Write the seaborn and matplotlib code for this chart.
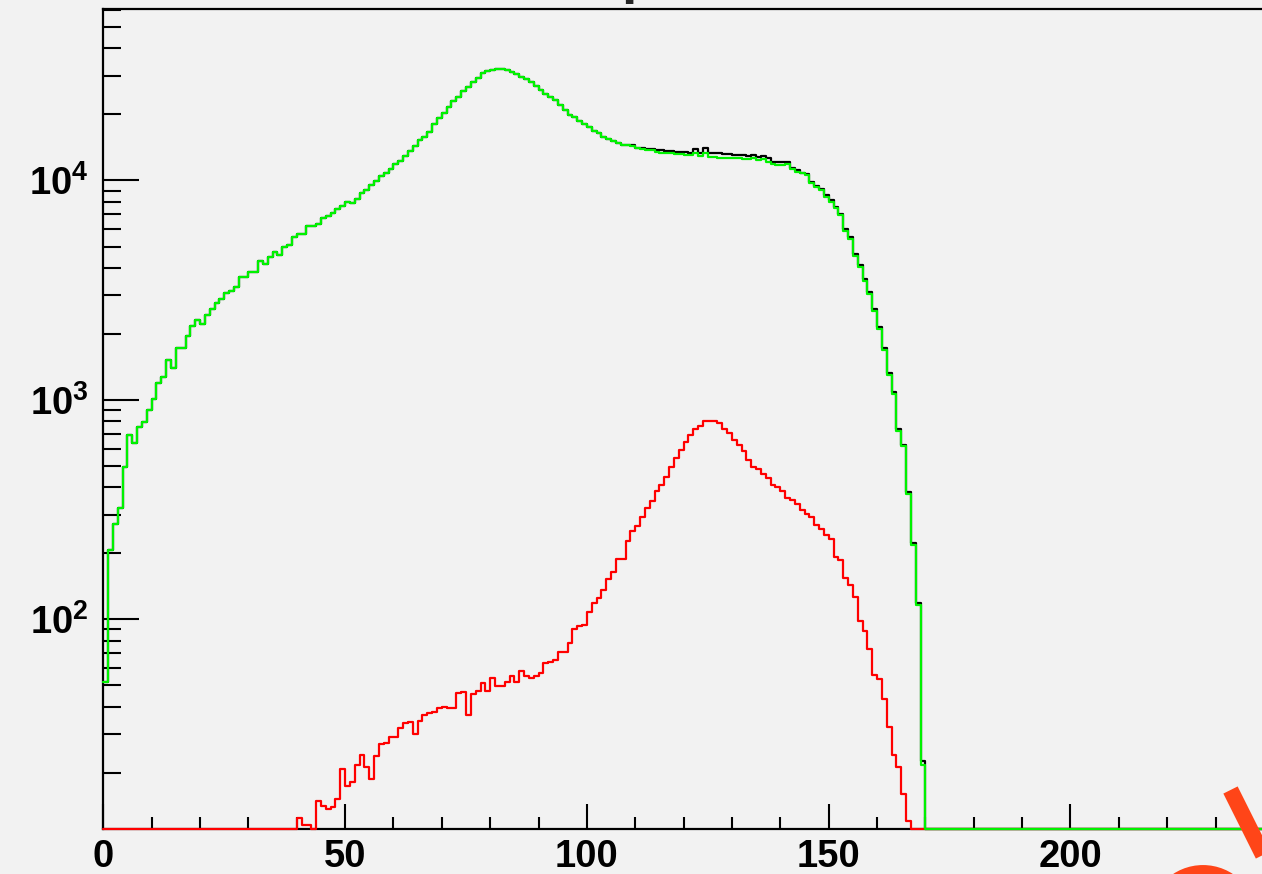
import numpy as np
import pandas as pd
import matplotlib
matplotlib.use("Agg")
import matplotlib.pyplot as plt
from matplotlib.ticker import FixedLocator, FixedFormatter, NullFormatter, LogLocator
from matplotlib.lines import Line2D
from matplotlib.patches import Circle
import seaborn as sns

# ---- histogram contents, one entry per 1-unit bin starting at 0 ----
counts_all = [
    52, 207, 271, 323, 493, 692, 634, 755, 796, 900,
    1009, 1198, 1268, 1520, 1393, 1719, 1719, 1955, 2172, 2312,
    2218, 2437, 2589, 2775, 2876, 3063, 3150, 3283, 3622, 3622,
    3842, 3842, 4298, 4150, 4466, 4740, 4580, 4990, 5080, 5540,
    5700, 5700, 6210, 6210, 6340, 6730, 6890, 7130, 7390, 7680,
    8000, 7870, 8240, 8800, 9050, 9530, 9950, 10510, 10780, 11250,
    11890, 12300, 12930, 13670, 14360, 15290, 15840, 16690, 18090, 19200,
    20380, 21550, 23110, 24100, 25660, 26580, 28200, 29410, 30780, 31430,
    31870, 32210, 32210, 31870, 31320, 30560, 29510, 28900, 28100, 26950,
    25850, 24790, 23930, 23270, 22080, 20960, 19890, 19540, 18740, 18090,
    17590, 16870, 16400, 15840, 15400, 15190, 14870, 14470, 14470, 14550,
    14100, 14000, 13950, 13900, 13800, 13700, 13650, 13600, 13550, 13500,
    13500, 13400, 13900, 13400, 14100, 13400, 13300, 13300, 13250, 13200,
    13100, 13000, 13100, 12900, 13000, 12800, 12900, 12700, 12200, 12100,
    12200, 12200, 11400, 11200, 10870, 10750, 9880, 9480, 9110, 8560,
    8150, 7560, 7040, 6000, 5500, 4620, 4100, 3560, 3100, 2600,
    2150, 1715, 1325, 1085, 738, 625, 380, 222, 118, 22.5,
]

counts_selected = [
    52, 207, 271, 323, 493, 692, 634, 755, 796, 900,
    1009, 1198, 1268, 1520, 1393, 1719, 1719, 1955, 2172, 2312,
    2218, 2437, 2589, 2775, 2876, 3063, 3150, 3283, 3622, 3622,
    3842, 3842, 4298, 4150, 4466, 4740, 4580, 4990, 5080, 5540,
    5700, 5700, 6210, 6210, 6340, 6730, 6890, 7130, 7390, 7680,
    8000, 7870, 8240, 8800, 9050, 9530, 9950, 10510, 10780, 11250,
    11890, 12300, 12930, 13670, 14360, 15290, 15840, 16690, 18090, 19200,
    20380, 21550, 23110, 24100, 25660, 26580, 28200, 29410, 30780, 31430,
    31870, 32210, 32210, 31870, 31320, 30560, 29510, 28900, 28100, 26950,
    25850, 24790, 23930, 23270, 22080, 20960, 19890, 19540, 18740, 18090,
    17590, 16870, 16400, 15840, 15400, 15190, 14870, 14470, 14470, 14400,
    14000, 13900, 13800, 13700, 13500, 13400, 13400, 13300, 13200, 13200,
    13100, 13000, 13300, 12900, 13400, 12800, 12750, 12700, 12700, 12650,
    12600, 12700, 12500, 12500, 12600, 12400, 12500, 12200, 11900, 11800,
    11800, 11900, 11250, 10960, 10780, 10590, 9710, 9380, 9050, 8440,
    8000, 7470, 6960, 5890, 5400, 4540, 4020, 3495, 3040, 2550,
    2110, 1680, 1300, 1065, 724, 613, 373, 218, 116, 21.7,
]

counts_matched = [
    0, 0, 0, 0, 0, 0, 0, 0, 0, 0,
    0, 0, 0, 0, 0, 0, 0, 0, 0, 0,
    0, 0, 0, 0, 0, 0, 0, 0, 0, 0,
    0, 0, 0, 0, 0, 0, 0, 0, 0, 0,
    12.4, 11.6, 11.6, 0, 14.8, 14.1, 13.6, 14.0, 15.2, 20.8,
    17.4, 18.2, 21.7, 24.1, 21.3, 18.7, 23.8, 27.0, 27.4, 29.0,
    29.0, 31.9, 33.6, 34.0, 30.0, 34.5, 36.6, 37.3, 37.9, 39.3,
    40.0, 39.3, 39.6, 46.0, 46.5, 36.6, 45.7, 47.3, 51.4, 47.3,
    53.8, 49.7, 49.7, 52.0, 55.2, 52.0, 58.3, 55.2, 53.8, 55.2,
    57.1, 63.4, 63.9, 65.3, 71.2, 71.2, 78.2, 90.0, 93.2, 94.2,
    107.6, 119, 125.6, 135.3, 152.4, 164.6, 188.6, 188.6, 227.9, 251.2,
    267.5, 294, 320.8, 347.5, 386, 411, 444, 492, 542, 592,
    642, 693, 738, 764, 797, 797, 805, 783, 735, 705,
    657, 624, 582, 533, 493, 483, 460, 440, 410, 400,
    386, 357, 350, 336, 315, 302, 294, 268, 257, 243,
    232, 193, 186, 154, 143, 126, 98.6, 88.7, 72.9, 55.7,
    53.3, 43.2, 32.4, 24.0, 21.3, 16.0, 12.0, 0, 0, 0,
]

x_ticks = [0, 50, 100, 150, 200]
x_tick_labels = ["0", "50", "100", "150", "200"]
y_ticks = [1e2, 1e3, 1e4]
y_tick_labels = [r"$\mathregular{10^{2}}$", r"$\mathregular{10^{3}}$", r"$\mathregular{10^{4}}$"]

X_MAX = 239.6
Y_MIN, Y_MAX = 11.1, 60800
BG = "#f2f2f2"

sns.set_theme(style="ticks")
plt.rcParams.update({
    "font.family": ["Liberation Sans", "DejaVu Sans"],
    "font.weight": "bold",
    "mathtext.fontset": "custom",
    "mathtext.rm": "Liberation Sans:bold",
    "mathtext.bf": "Liberation Sans:bold",
    "mathtext.it": "Liberation Sans:bold",
})

fig = plt.figure(figsize=(12.62, 8.74), dpi=100, facecolor=BG)
ax = fig.add_axes([0.08185, 0.05183, 0.91815, 0.93844])
ax.set_facecolor(BG)
ax.set_yscale("log")

n_bins = int(np.ceil(X_MAX))
centers = np.arange(n_bins) + 0.5


def padded(values):
    arr = np.zeros(n_bins)
    arr[:len(values)] = values
    # empty bins sit on the lower frame edge, as on a log axis
    return np.clip(arr, Y_MIN, None)


for values, color in [(counts_all, "black"), (counts_matched, "#ff0000"), (counts_selected, "#00f200")]:
    frame = pd.DataFrame({"center": centers, "count": padded(values)})
    sns.histplot(data=frame, x="center", weights="count", bins=n_bins, binrange=(0, n_bins),
                 element="step", fill=False, color=color, linewidth=1.6, ax=ax,
                 zorder=3, clip_on=False)

ax.set_xlim(0, X_MAX)
ax.set_ylim(Y_MIN, Y_MAX)
ax.set_xlabel("")
ax.set_ylabel("")

ax.xaxis.set_major_locator(FixedLocator(x_ticks))
ax.xaxis.set_major_formatter(FixedFormatter(x_tick_labels))
ax.xaxis.set_minor_locator(FixedLocator(np.arange(0, 240, 10)))
ax.yaxis.set_major_locator(FixedLocator(y_ticks))
ax.yaxis.set_major_formatter(FixedFormatter(y_tick_labels))
ax.yaxis.set_minor_locator(LogLocator(base=10, subs=np.arange(2, 10), numticks=20))
ax.yaxis.set_minor_formatter(NullFormatter())

ax.tick_params(axis="y", which="major", direction="in", length=26, width=1.5,
               pad=10.5, labelsize=27.5, colors="black")
ax.tick_params(axis="y", which="minor", direction="in", length=13, width=1.5, colors="black")
ax.tick_params(axis="x", which="major", direction="in", length=18, width=1.5,
               pad=7.5, labelsize=27.5, colors="black")
ax.tick_params(axis="x", which="minor", direction="in", length=8.6, width=1.5, colors="black")

for side in ["left", "bottom", "top"]:
    ax.spines[side].set_linewidth(1.6)
    ax.spines[side].set_color("black")
ax.spines["right"].set_visible(False)

# title line sits just above the visible canvas
fig.text(0.4921, 1.0087, "p", fontsize=40, fontweight="bold", ha="left", va="baseline")

# orange stamp in the lower right corner
tr = fig.dpi_scale_trans
x0, y0 = 12.305, (874 - 790) / 100
fig.add_artist(Line2D([x0, x0 + 0.6], [y0, y0 - 1.2], transform=tr, color="#ff4518",
                      linewidth=11.5, solid_capstyle="butt"))
fig.add_artist(Circle((12.03, (874 - 919.5) / 100), 0.475, transform=tr, fill=False,
                      edgecolor="#ff4518", linewidth=10))

fig.savefig("out.png", dpi=100, facecolor=BG)
